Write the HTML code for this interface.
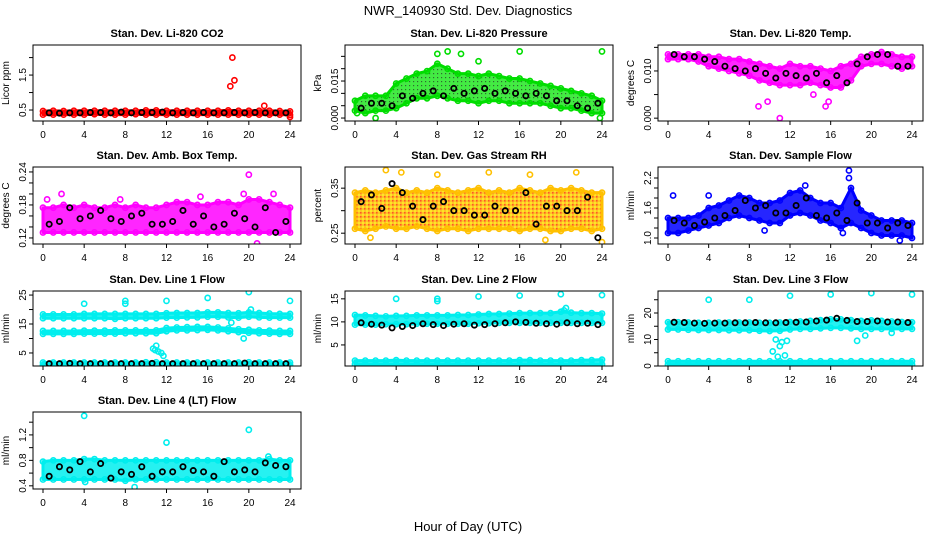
<!DOCTYPE html>
<html><head><meta charset="utf-8"><style>
html,body{margin:0;padding:0;background:#fff;}
svg{display:block;font-family:"Liberation Sans",Arial,sans-serif;}
</style></head><body>
<svg id="chart" width="936" height="540" viewBox="0 0 936 540" xmlns="http://www.w3.org/2000/svg">
<defs>
<pattern id="patRH" width="4" height="4" patternUnits="userSpaceOnUse"><rect width="4" height="4" fill="#ffb800"/><rect x="0" y="0" width="1.6" height="1.6" fill="#ff3a00"/><rect x="2" y="2" width="2" height="2" fill="#ffe000"/></pattern>
<pattern id="patP" width="4" height="4" patternUnits="userSpaceOnUse"><rect width="4" height="4" fill="#22e822"/><rect x="1" y="1" width="1.2" height="1.2" fill="#0a500a"/></pattern>
</defs>
<text x="468" y="15" font-size="13" text-anchor="middle">NWR_140930  Std. Dev. Diagnostics</text>
<text x="468" y="531" font-size="13" text-anchor="middle">Hour of Day (UTC)</text>
<g id="panels"></g>
</svg>
<script>
// ---- data (hourly band low/high of dense cloud, black points at hour+0.5, outliers) ----
const hours = [0,1,2,3,4,5,6,7,8,9,10,11,12,13,14,15,16,17,18,19,20,21,22,23,24];
const xTicks = [0,4,8,12,16,20,24];

const p1Lo = [0.37,0.37,0.37,0.37,0.37,0.38,0.37,0.37,0.37,0.38,0.37,0.37,0.37,0.37,0.37,0.37,0.37,0.37,0.37,0.37,0.37,0.37,0.37,0.37,0.36];
const p1Hi = [0.47,0.48,0.47,0.48,0.48,0.48,0.48,0.48,0.48,0.48,0.49,0.49,0.48,0.48,0.48,0.48,0.48,0.48,0.49,0.48,0.48,0.48,0.48,0.47,0.46];
const p1Black = [0.42,0.41,0.42,0.42,0.43,0.43,0.42,0.44,0.42,0.43,0.43,0.44,0.42,0.43,0.42,0.43,0.42,0.42,0.43,0.42,0.43,0.42,0.42,0.42];
const p1OutX = [18.4,18.6,18.2,21.5,24];
const p1OutY = [2.0,1.35,1.18,0.62,0.3];

const p2Lo = [0.003,0.002,0.003,0.003,0.004,0.006,0.008,0.008,0.009,0.008,0.007,0.007,0.006,0.007,0.007,0.006,0.006,0.006,0.006,0.005,0.004,0.004,0.003,0.002,0.002];
const p2Hi = [0.007,0.009,0.009,0.009,0.014,0.016,0.018,0.019,0.022,0.020,0.018,0.018,0.017,0.018,0.017,0.016,0.016,0.015,0.014,0.013,0.012,0.011,0.010,0.009,0.007];
const p2Black = [0.004,0.006,0.006,0.005,0.009,0.008,0.010,0.011,0.009,0.012,0.010,0.011,0.012,0.010,0.011,0.010,0.009,0.010,0.009,0.007,0.007,0.005,0.004,0.006];
const p2OutX = [8,9,16,24,12,0.2,2,23.8,10.3];
const p2OutY = [0.026,0.027,0.027,0.027,0.023,0.002,0.0,0.0,0.026];

const p3Lo = [0.0125,0.0125,0.0125,0.012,0.011,0.0105,0.010,0.0095,0.009,0.008,0.0075,0.007,0.007,0.007,0.0075,0.007,0.0065,0.0065,0.008,0.011,0.0115,0.0115,0.011,0.0105,0.011];
const p3Hi = [0.0135,0.0135,0.0135,0.0135,0.013,0.013,0.0125,0.0125,0.012,0.0115,0.011,0.0105,0.0115,0.011,0.011,0.0105,0.010,0.011,0.0115,0.013,0.0135,0.014,0.0135,0.013,0.013];
const p3Black = [0.0135,0.013,0.013,0.0125,0.012,0.011,0.0105,0.010,0.0105,0.0095,0.0085,0.0095,0.009,0.0085,0.0095,0.0075,0.009,0.0075,0.0115,0.013,0.0135,0.0135,0.011,0.011];
const p3OutX = [8.9,9.8,11,15.5,15.8,14.3];
const p3OutY = [0.0025,0.0035,0.0,0.0025,0.0035,0.005];

const p4Lo = [0.13,0.13,0.13,0.13,0.13,0.13,0.13,0.13,0.13,0.13,0.13,0.13,0.13,0.13,0.13,0.13,0.13,0.13,0.13,0.13,0.13,0.13,0.13,0.13,0.13];
const p4Hi = [0.175,0.175,0.18,0.175,0.18,0.175,0.175,0.18,0.175,0.18,0.175,0.175,0.18,0.185,0.185,0.18,0.18,0.185,0.185,0.18,0.19,0.19,0.185,0.18,0.175];
const p4Black = [0.145,0.15,0.175,0.155,0.16,0.17,0.155,0.15,0.16,0.165,0.145,0.145,0.15,0.17,0.145,0.16,0.14,0.145,0.165,0.155,0.14,0.175,0.13,0.15];
const p4OutX = [20,20.8,19.5,0.4,1.8,22.4,7.5,15.3];
const p4OutY = [0.235,0.11,0.2,0.19,0.2,0.2,0.19,0.195];

const p5Lo = [0.26,0.255,0.26,0.265,0.26,0.26,0.265,0.26,0.255,0.26,0.26,0.255,0.26,0.26,0.26,0.26,0.255,0.26,0.26,0.255,0.255,0.26,0.26,0.255,0.26];
const p5Hi = [0.34,0.345,0.34,0.345,0.35,0.34,0.345,0.34,0.35,0.345,0.34,0.345,0.35,0.34,0.345,0.34,0.35,0.345,0.34,0.35,0.345,0.35,0.345,0.34,0.34];
const p5Black = [0.32,0.335,0.305,0.36,0.34,0.31,0.28,0.31,0.32,0.3,0.3,0.29,0.29,0.31,0.3,0.3,0.34,0.27,0.31,0.31,0.3,0.3,0.33,0.24];
const p5OutX = [3,4.5,8,13,17,18.5,21.5,24,1.5];
const p5OutY = [0.39,0.385,0.38,0.385,0.38,0.235,0.385,0.23,0.24];

const p6Lo = [1.1,1.1,1.15,1.2,1.25,1.3,1.4,1.45,1.4,1.35,1.3,1.3,1.45,1.5,1.45,1.35,1.3,1.2,1.3,1.2,1.1,1.05,1.05,1.05,1.0];
const p6Hi = [1.4,1.4,1.4,1.45,1.6,1.65,1.75,1.85,1.8,1.7,1.7,1.75,1.9,1.95,1.8,1.7,1.7,1.6,2.0,1.55,1.45,1.35,1.35,1.35,1.3];
const p6Black = [1.35,1.3,1.25,1.32,1.4,1.45,1.55,1.75,1.6,1.65,1.5,1.5,1.65,1.8,1.45,1.4,1.5,1.35,1.7,1.3,1.3,1.2,1.3,1.25];
const p6OutX = [17.8,17.8,0.5,4,9.5,22.8,17.2,13.5];
const p6OutY = [2.35,2.2,1.85,1.85,1.15,0.95,1.1,2.05];

const p7Lo = [17.0,17.0,17.0,17.0,17.0,17.0,17.0,16.8,17.0,17.0,17.0,17.0,17.2,17.2,17.3,17.3,17.5,17.5,17.3,17.2,17.5,17.3,17.2,17.2,17.2];
const p7Hi = [18.3,18.3,18.3,18.3,18.5,18.5,18.5,18.5,18.5,18.5,18.5,18.5,18.7,18.8,18.8,18.8,19.0,19.0,18.8,18.7,19.0,18.8,18.6,18.5,18.5];
const p7MidLo = [11.6,11.6,11.6,11.6,11.7,11.7,11.7,11.7,11.8,11.8,11.8,11.8,12.5,12.8,12.8,12.9,13.0,12.8,12.5,12.2,12.0,11.8,11.7,11.6,11.6];
const p7MidHi = [12.6,12.6,12.6,12.6,12.7,12.7,12.7,12.8,12.8,12.8,12.8,12.8,13.6,13.8,13.9,14.0,14.0,13.8,13.5,13.2,13.0,12.8,12.7,12.6,12.6];
const p7BotLo = [0.8,0.8,0.8,0.8,0.8,0.8,0.8,0.8,0.8,0.8,0.8,0.8,0.8,0.8,0.8,0.8,0.8,0.8,0.8,0.8,0.8,0.8,0.8,0.8,0.8];
const p7BotHi = [1.7,1.7,1.7,1.7,1.7,1.7,1.7,1.7,1.7,1.7,1.8,1.8,1.7,1.7,1.7,1.7,1.7,1.7,1.7,1.7,1.8,1.7,1.7,1.7,1.7];
const p7Black = [1.3,1.3,1.4,1.3,1.3,1.3,1.3,1.3,1.3,1.3,1.4,1.3,1.3,1.3,1.3,1.3,1.3,1.3,1.3,1.5,1.3,1.3,1.3,1.3];
const p7OutX = [4,8,8,12,16,20,24,10.7,11,11.2,11.5,11.7,10.9,19.5,20.2,18.3];
const p7OutY = [22,23,22,23,24,26,23,6.5,7.5,5.5,5,4,6,10,20,15.5];

const p8Lo = [9.4,9.4,9.4,9.5,9.5,9.5,9.6,9.6,9.6,9.6,9.6,9.6,9.7,9.7,9.8,9.8,9.8,9.8,9.8,9.8,9.8,9.8,9.8,9.8,9.8];
const p8Hi = [11.5,11.4,11.3,11.2,11.3,11.3,11.4,11.4,11.4,11.4,11.5,11.5,11.6,11.7,11.7,11.8,11.9,11.9,11.9,11.9,12.2,12.0,11.9,11.9,11.8];
const p8BotLo = [0.8,0.8,0.8,0.8,0.8,0.8,0.8,0.8,0.8,0.8,0.8,0.8,0.8,0.8,0.8,0.8,0.8,0.8,0.8,0.8,0.8,0.8,0.8,0.8,0.8];
const p8BotHi = [1.6,1.6,1.6,1.6,1.7,1.6,1.6,1.6,1.6,1.6,1.6,1.6,1.6,1.6,1.6,1.6,1.7,1.7,1.6,1.6,1.6,1.6,1.7,1.7,1.8];
const p8Black = [9.8,9.5,9.3,8.7,9.0,9.2,9.6,9.4,9.2,9.5,9.6,9.3,9.4,9.6,9.8,10.0,9.9,9.7,9.6,9.5,9.8,9.6,9.7,9.4];
const p8OutX = [4,8,8,12,16,20,24,20.5,20.3];
const p8OutY = [15,15,14.5,15.5,15.7,16,15.8,13,12.5];

const p9Lo = [13.8,13.8,13.7,13.6,13.6,13.6,13.5,13.5,13.5,13.3,13.2,13.3,13.8,14.0,14.0,14.2,14.4,14.4,14.2,14.0,14.0,14.0,14.0,14.0,14.0];
const p9Hi = [16.5,16.5,16.4,16.3,16.3,16.4,16.4,16.4,16.4,16.3,16.3,16.4,16.6,16.8,17.0,17.3,17.6,17.6,17.3,17.0,17.2,17.0,16.8,16.6,16.5];
const p9BotLo = [0.5,0.5,0.5,0.5,0.5,0.5,0.5,0.5,0.5,0.5,0.5,0.5,0.5,0.5,0.5,0.5,0.5,0.5,0.5,0.5,0.5,0.5,0.5,0.5,0.5];
const p9BotHi = [1.8,1.8,1.8,1.8,1.8,1.8,1.8,1.8,1.8,1.8,1.8,1.8,1.8,1.8,1.8,1.8,1.8,1.8,1.8,1.8,1.8,1.8,1.8,1.8,1.8];
const p9Black = [16.5,16.4,16.2,16.1,16.2,16.2,16.3,16.3,16.4,16.3,16.3,16.4,16.5,16.6,17.0,17.3,18.0,17.2,16.8,16.8,17.0,16.6,16.6,16.4];
const p9OutX = [4,8,12,16,20,24,10.3,10.6,11,11.2,11.7,10.8,11.5,18.6,19.4,22];
const p9OutY = [25,25,26.5,27,27.5,27,5.5,10,7.5,9,9.5,3.5,4,9.5,11.5,12.5];

const p10Lo = [0.5,0.5,0.5,0.5,0.5,0.5,0.5,0.5,0.48,0.5,0.5,0.5,0.5,0.5,0.5,0.5,0.5,0.5,0.5,0.5,0.5,0.5,0.5,0.5,0.5];
const p10Hi = [0.78,0.8,0.8,0.8,0.82,0.82,0.8,0.8,0.8,0.8,0.8,0.8,0.8,0.8,0.8,0.8,0.8,0.8,0.8,0.8,0.8,0.8,0.82,0.8,0.8];
const p10Black = [0.55,0.7,0.65,0.78,0.62,0.75,0.52,0.62,0.58,0.7,0.55,0.62,0.62,0.7,0.64,0.62,0.55,0.78,0.62,0.65,0.62,0.76,0.72,0.7];
const p10OutX = [4,20,12,8.9,4.1,21.9];
const p10OutY = [1.5,1.28,1.08,0.38,0.46,0.86];

// ---- layout / rendering ----
const NS = 'http://www.w3.org/2000/svg';
const root = document.getElementById('panels');
function mk(tag, attrs, parent, txt) {
  const e = document.createElementNS(NS, tag);
  for (const k in attrs) e.setAttribute(k, attrs[k]);
  if (txt !== undefined) e.textContent = txt;
  parent.appendChild(e);
  return e;
}
const cols = [[33,301],[345,613],[658,923]];
const rows = [[45,121],[167,244],[291,366],[412,489]];
const panels = [
  {id:'co2',title:'Stan. Dev. Li-820 CO2',ylab:'Licor ppm',c:0,r:0,ymin:0.186,ymax:2.36,ticks:[0.5,1,1.5,2],labs:['0.5','','1.5',''],color:'#ff0000',fill:'#ff0000',bands:[[p1Lo,p1Hi]],black:p1Black,ox:p1OutX,oy:p1OutY},
  {id:'pressure',title:'Stan. Dev. Li-820 Pressure',ylab:'kPa',c:1,r:0,ymin:-0.0012,ymax:0.0296,ticks:[0,0.005,0.01,0.015,0.02,0.025],labs:['0.000','','','0.015','',''],color:'#00dd00',fill:'url(#patP)',bands:[[p2Lo,p2Hi]],black:p2Black,ox:p2OutX,oy:p2OutY},
  {id:'li-temp',title:'Stan. Dev. Li-820 Temp.',ylab:'degrees C',c:2,r:0,ymin:-0.0006,ymax:0.0155,ticks:[0,0.005,0.01,0.015],labs:['0.000','','0.010',''],color:'#ff00ff',fill:'#ff00ff',bands:[[p3Lo,p3Hi]],black:p3Black,ox:p3OutX,oy:p3OutY},
  {id:'amb-temp',title:'Stan. Dev. Amb. Box Temp.',ylab:'degrees C',c:0,r:1,ymin:0.109,ymax:0.249,ticks:[0.12,0.14,0.16,0.18,0.2,0.22,0.24],labs:['0.12','','','0.18','','','0.24'],color:'#ff00ff',fill:'#ff00ff',bands:[[p4Lo,p4Hi]],black:p4Black,ox:p4OutX,oy:p4OutY},
  {id:'rh',title:'Stan. Dev. Gas Stream RH',ylab:'percent',c:1,r:1,ymin:0.226,ymax:0.397,ticks:[0.25,0.3,0.35],labs:['0.25','','0.35'],color:'#ffc000',fill:'url(#patRH)',bands:[[p5Lo,p5Hi]],black:p5Black,ox:p5OutX,oy:p5OutY},
  {id:'sample-flow',title:'Stan. Dev. Sample Flow',ylab:'ml/min',c:2,r:1,ymin:0.88,ymax:2.42,ticks:[1,1.2,1.4,1.6,1.8,2,2.2],labs:['1.0','','','1.6','','','2.2'],color:'#0000ff',fill:'#0000ff',bands:[[p6Lo,p6Hi]],black:p6Black,ox:p6OutX,oy:p6OutY},
  {id:'line1',title:'Stan. Dev. Line 1 Flow',ylab:'ml/min',c:0,r:2,ymin:0.5,ymax:26.4,ticks:[5,10,15,20,25],labs:['5','','15','','25'],color:'#00eeee',fill:'#00eeee',bands:[[p7Lo,p7Hi],[p7MidLo,p7MidHi],[p7BotLo,p7BotHi]],black:p7Black,ox:p7OutX,oy:p7OutY},
  {id:'line2',title:'Stan. Dev. Line 2 Flow',ylab:'ml/min',c:1,r:2,ymin:0.43,ymax:16.7,ticks:[5,10,15],labs:['5','10','15'],color:'#00eeee',fill:'#00eeee',bands:[[p8Lo,p8Hi],[p8BotLo,p8BotHi]],black:p8Black,ox:p8OutX,oy:p8OutY},
  {id:'line3',title:'Stan. Dev. Line 3 Flow',ylab:'ml/min',c:2,r:2,ymin:0,ymax:28.3,ticks:[0,5,10,15,20,25],labs:['0','','10','','20',''],color:'#00eeee',fill:'#00eeee',bands:[[p9Lo,p9Hi],[p9BotLo,p9BotHi]],black:p9Black,ox:p9OutX,oy:p9OutY},
  {id:'line4',title:'Stan. Dev. Line 4 (LT) Flow',ylab:'ml/min',c:0,r:3,ymin:0.35,ymax:1.56,ticks:[0.4,0.6,0.8,1,1.2,1.4],labs:['0.4','','0.8','','1.2',''],color:'#00eeee',fill:'#00eeee',bands:[[p10Lo,p10Hi]],black:p10Black,ox:p10OutX,oy:p10OutY}
];

panels.forEach(p => {
  const L = cols[p.c][0], R = cols[p.c][1], T = rows[p.r][0], B = rows[p.r][1];
  const xs = h => L + 10 + h * (R - L - 21) / 24;
  const ys = v => B - (v - p.ymin) / (p.ymax - p.ymin) * (B - T);
  const g = mk('g', {}, root);
  
  
  const t = mk('text', {x:(L+R)/2, y:T-8, 'font-size':11, 'font-weight':'bold', 'text-anchor':'middle'}, g, p.title);
  
  
  const plot = mk('g', {}, g);
  
  
  const clip = mk('clipPath', {id:'clip-' + p.id}, g);
  mk('rect', {x:L, y:T, width:R-L, height:B-T}, clip);
  plot.setAttribute('clip-path', 'url(#clip-' + p.id + ')');
  p.bands.forEach((bd, bi) => {
    const lo = bd[0], hi = bd[1];
    let pts = [];
    hours.forEach((h, i) => pts.push(xs(h) + ',' + ys(hi[i])));
    for (let i = hours.length - 1; i >= 0; i--) pts.push(xs(hours[i]) + ',' + ys(lo[i]));
    const poly = mk('polygon', {points:pts.join(' '), fill:p.fill, 'fill-opacity':0.85, stroke:p.color, 'stroke-width':3, 'stroke-linejoin':'round'}, plot);
    
    
    hours.forEach((h, i) => {
      [lo[i], hi[i]].forEach(v => {
        const c = mk('circle', {cx:xs(h), cy:ys(v), r:2.6, fill:'none', stroke:p.color, 'stroke-width':1.6}, plot);
        
        
      });
    });
  });
  p.ox.forEach((h, i) => {
    const c = mk('circle', {cx:xs(h), cy:ys(p.oy[i]), r:2.6, fill:'none', stroke:p.color, 'stroke-width':1.6}, plot);
    
    
  });
  p.black.forEach((v, i) => {
    const c = mk('circle', {cx:xs(i + 0.6), cy:ys(v), r:2.6, fill:'none', stroke:'#000', 'stroke-width':1.8}, plot);
    
    
  });
  const box = mk('rect', {x:L, y:T, width:R-L, height:B-T, fill:'none', stroke:'#000', 'stroke-width':1}, g);
  
  
  const xa = mk('g', {}, g);
  
  
  mk('line', {x1:xs(0), x2:xs(24), y1:B, y2:B, stroke:'#000'}, xa);
  xTicks.forEach(h => {
    mk('line', {x1:xs(h), x2:xs(h), y1:B, y2:B+4, stroke:'#000'}, xa);
    const tl = mk('text', {x:xs(h), y:B+17, 'font-size':10, 'text-anchor':'middle'}, xa, String(h));
    
    
  });
  const ya = mk('g', {}, g);
  
  
  mk('line', {x1:L, x2:L, y1:ys(p.ticks[0]), y2:ys(p.ticks[p.ticks.length-1]), stroke:'#000'}, ya);
  p.ticks.forEach((v, i) => {
    mk('line', {x1:L-4, x2:L, y1:ys(v), y2:ys(v), stroke:'#000'}, ya);
    if (p.labs[i]) {
      const yl = mk('text', {x:L-7, y:ys(v), 'font-size':10, 'text-anchor':'middle', transform:'rotate(-90 ' + (L-7) + ' ' + ys(v) + ')'}, ya, p.labs[i]);
      
      
    }
  });
  const cy = (T + B) / 2;
  const yt = mk('text', {x:L-24, y:cy, 'font-size':10, 'text-anchor':'middle', transform:'rotate(-90 ' + (L-24) + ' ' + cy + ')'}, g, p.ylab);
  
  
});
</script>
</body></html>
